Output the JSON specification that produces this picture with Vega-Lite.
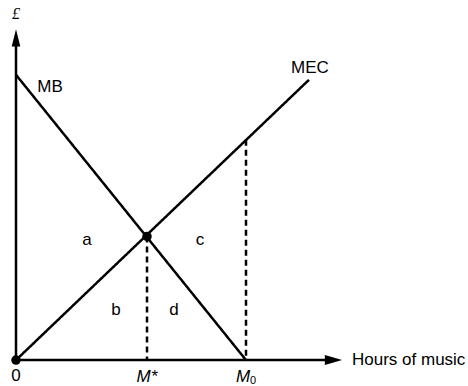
{
  "$schema": "https://vega.github.io/schema/vega-lite/v6.json",
  "width": 468,
  "height": 386,
  "autosize": {"type": "fit", "contains": "padding"},
  "padding": 0,
  "background": "white",
  "config": {"view": {"stroke": null}, "text": {"font": "Liberation Sans", "fontSize": 17, "color": "black"}},
  "datasets": {
    "segs": [
      {"id": "yaxis", "x": 0, "y": 0, "style": "solid"},
      {"id": "yaxis", "x": 0, "y": 318, "style": "solid"},
      {"id": "xaxis", "x": 0, "y": 0, "style": "solid"},
      {"id": "xaxis", "x": 312, "y": 0, "style": "solid"},
      {"id": "MB", "x": 0, "y": 286, "style": "solid"},
      {"id": "MB", "x": 230, "y": 0, "style": "solid"},
      {"id": "MEC", "x": 0, "y": 0, "style": "solid"},
      {"id": "MEC", "x": 293, "y": 281, "style": "solid"},
      {"id": "dMstar", "x": 131, "y": 124, "style": "dashed"},
      {"id": "dMstar", "x": 131, "y": 0, "style": "dashed"},
      {"id": "dM0", "x": 230, "y": 221, "style": "dashed"},
      {"id": "dM0", "x": 230, "y": 0, "style": "dashed"}
    ],
    "dots": [
      {"x": 0, "y": 0},
      {"x": 131, "y": 124}
    ],
    "arrows": [
      {"x": 0, "y": 323, "dir": "up"},
      {"x": 317.5, "y": 0, "dir": "right"}
    ],
    "labels": [
      {"x": 34, "y": 274, "t": "MB"},
      {"x": 294, "y": 293, "t": "MEC"},
      {"x": 71, "y": 120, "t": "a"},
      {"x": 100, "y": 50, "t": "b"},
      {"x": 184, "y": 120, "t": "c"},
      {"x": 158, "y": 50, "t": "d"},
      {"x": 0, "y": -16, "t": "0"}
    ],
    "pound": [
      {"x": 0, "y": 347, "t": "£"}
    ],
    "italics": [
      {"x": 131, "y": -17, "t": "M*"},
      {"x": 227, "y": -17, "t": "M"}
    ],
    "hours": [
      {"x": 336, "y": 0, "t": "Hours of music"}
    ],
    "subs": [
      {"x": 234, "y": -21, "t": "0"}
    ]
  },
  "layer": [
    {
      "data": {"name": "segs"},
      "mark": {"type": "line", "color": "black", "strokeWidth": 2.5},
      "encoding": {
        "x": {"field": "x", "type": "quantitative", "scale": {"domain": [-16, 452], "nice": false, "zero": false}, "axis": null},
        "y": {"field": "y", "type": "quantitative", "scale": {"domain": [-25, 361], "nice": false, "zero": false}, "axis": null},
        "detail": {"field": "id"},
        "strokeDash": {"field": "style", "type": "nominal", "scale": {"domain": ["solid", "dashed"], "range": [[1, 0], [6, 4]]}, "legend": null}
      }
    },
    {
      "data": {"name": "dots"},
      "mark": {"type": "point", "filled": true, "color": "black", "size": 90, "opacity": 1},
      "encoding": {
        "x": {"field": "x", "type": "quantitative"},
        "y": {"field": "y", "type": "quantitative"}
      }
    },
    {
      "data": {"name": "arrows"},
      "mark": {"type": "point", "filled": true, "color": "black", "size": 300, "opacity": 1},
      "encoding": {
        "x": {"field": "x", "type": "quantitative"},
        "y": {"field": "y", "type": "quantitative"},
        "shape": {"field": "dir", "type": "nominal", "scale": {"domain": ["up", "right"], "range": ["M0,-1L0.5,1L-0.5,1Z", "M1,0L-1,0.58L-1,-0.58Z"]}, "legend": null}
      }
    },
    {
      "data": {"name": "labels"},
      "mark": {"type": "text", "baseline": "middle", "align": "center"},
      "encoding": {
        "x": {"field": "x", "type": "quantitative"},
        "y": {"field": "y", "type": "quantitative"},
        "text": {"field": "t"}
      }
    },
    {
      "data": {"name": "pound"},
      "mark": {"type": "text", "baseline": "middle", "align": "center", "font": "Liberation Serif", "fontStyle": "italic", "fontSize": 16},
      "encoding": {
        "x": {"field": "x", "type": "quantitative"},
        "y": {"field": "y", "type": "quantitative"},
        "text": {"field": "t"}
      }
    },
    {
      "data": {"name": "italics"},
      "mark": {"type": "text", "baseline": "middle", "align": "center", "fontStyle": "italic"},
      "encoding": {
        "x": {"field": "x", "type": "quantitative"},
        "y": {"field": "y", "type": "quantitative"},
        "text": {"field": "t"}
      }
    },
    {
      "data": {"name": "hours"},
      "mark": {"type": "text", "baseline": "middle", "align": "left"},
      "encoding": {
        "x": {"field": "x", "type": "quantitative"},
        "y": {"field": "y", "type": "quantitative"},
        "text": {"field": "t"}
      }
    },
    {
      "data": {"name": "subs"},
      "mark": {"type": "text", "baseline": "middle", "fontSize": 11, "align": "left"},
      "encoding": {
        "x": {"field": "x", "type": "quantitative"},
        "y": {"field": "y", "type": "quantitative"},
        "text": {"field": "t"}
      }
    }
  ]
}
